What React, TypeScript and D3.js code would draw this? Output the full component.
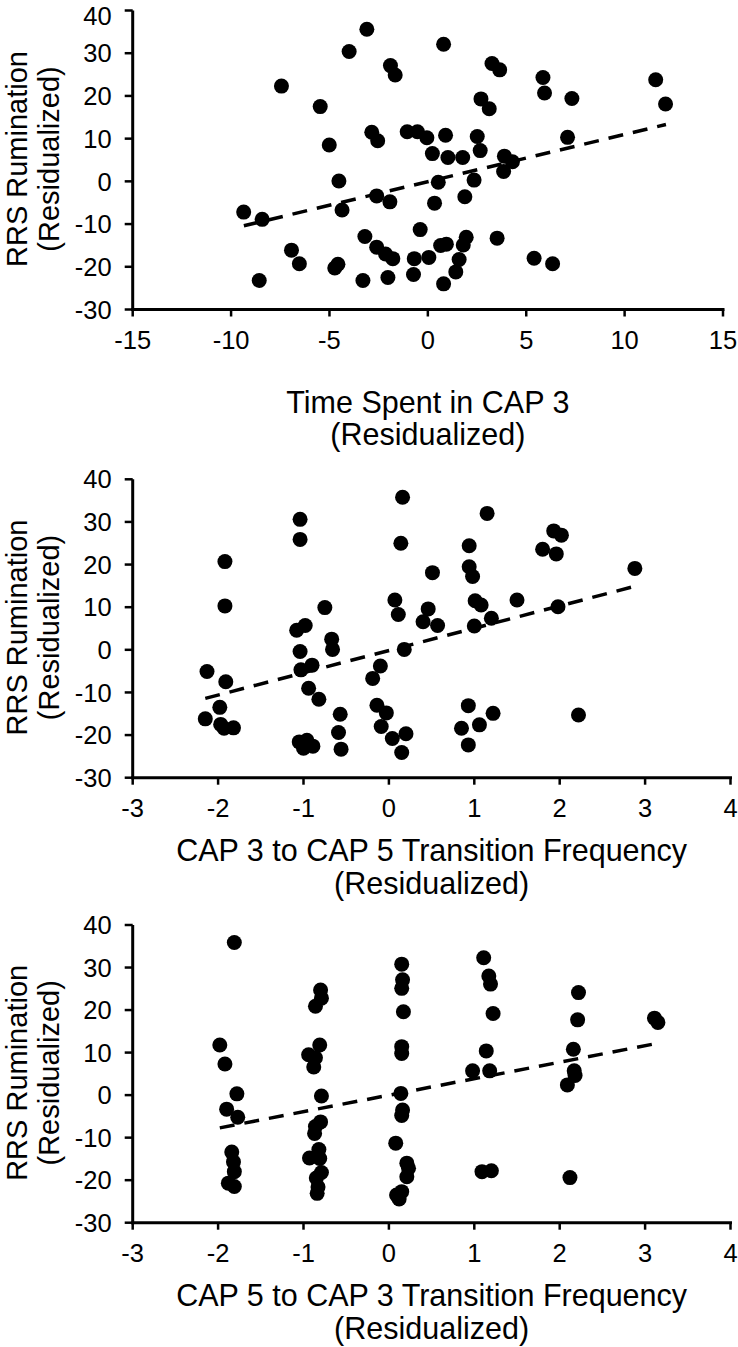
import React from "react";
import * as d3 from "d3";

// ---------- data ----------
const yTicks = [-30, -20, -10, 0, 10, 20, 30, 40];
const xTicksTime = [-15, -10, -5, 0, 5, 10, 15];
const xTicksTrans = [-3, -2, -1, 0, 1, 2, 3, 4];

const yTitleLines = ["RRS Rumination", "(Residualized)"];
const xTitleTime = ["Time Spent in CAP 3", "(Residualized)"];
const xTitle35 = ["CAP 3 to CAP 5 Transition Frequency", "(Residualized)"];
const xTitle53 = ["CAP 5 to CAP 3 Transition Frequency", "(Residualized)"];

// Panel 1: Time Spent in CAP 3
const timeX = [-3.1, -4.0, 0.8, -1.9, -1.66, -7.44, -5.47, -5.01, -4.52, -4.36, -9.36, -8.42, -8.57, -6.93, -6.53, -4.73, -4.57, -3.3, -3.2, -2.85, -2.55, -2.6, -1.93, -2.6, -2.15, -1.78, -2.03, -1.05, -0.53, -0.05, 0.23, 0.9, 1.02, 1.77, 0.53, 0.34, -0.39, -0.69, -0.73, 0.05, 0.65, 0.94, 0.8, 1.42, 1.59, 1.8, 1.95, 1.88, 2.35, 2.51, 2.66, 2.7, 3.12, 3.26, 3.65, 3.85, 3.89, 4.3, 3.52, 5.4, 6.34, 5.85, 5.93, 7.32, 7.1, 11.58, 12.08];
const timeY = [35.6, 30.4, 32.1, 27.1, 24.9, 22.3, 17.5, 8.5, 0.1, -6.7, -7.2, -8.9, -23.2, -16.1, -19.3, -20.3, -19.4, -23.2, -12.9, 11.5, 9.5, -3.4, -4.8, -15.4, -17.0, -18.1, -22.5, 11.6, 11.6, 10.2, 6.5, 10.8, 5.6, 5.6, -0.2, -5.1, -11.3, -18.1, -21.8, -17.8, -15.0, -14.7, -24.0, -21.2, -18.3, -14.9, -13.1, -3.6, 0.3, 10.5, 7.2, 19.3, 17.0, 27.6, 26.1, 2.3, 5.9, 4.6, -13.3, -18.0, -19.3, 24.3, 20.7, 19.4, 10.3, 23.8, 18.1];
const timeTrendX = [-9.35, 12.1];
const timeTrendY = [-10.4, 13.3];

// Panel 2: CAP 3 -> CAP 5 transition frequency
const t35X = [-1.92, -1.92, -2.13, -1.91, -1.98, -2.15, -1.97, -1.93, -1.82, -1.04, -1.04, -1.08, -0.98, -1.04, -1.03, -0.9, -0.94, -0.82, -0.75, -0.67, -0.66, -0.57, -0.59, -0.56, -1.05, -0.96, -1.0, -0.89, -0.1, -0.19, -0.14, -0.03, -0.09, 0.04, 0.2, 0.15, 0.16, 0.14, 0.07, 0.11, 0.18, 1.15, 0.94, 0.94, 0.98, 0.51, 0.46, 0.4, 0.57, 1.01, 1.08, 1.0, 1.2, 1.5, 1.93, 2.02, 1.8, 1.96, 1.98, 2.88, 0.93, 1.22, 0.85, 1.06, 0.93, 2.22];
const t35Y = [20.7, 10.3, -5.1, -7.5, -13.5, -16.2, -17.5, -18.4, -18.3, 30.6, 25.9, 4.6, 5.7, -0.4, -4.7, -3.6, -9.0, -11.6, 9.9, 2.5, 0.1, -15.1, -19.4, -23.3, -21.6, -21.2, -23.1, -22.6, -3.8, -6.7, -13.0, -14.8, -18.0, -20.8, -19.7, -24.1, 35.8, 25.0, 11.7, 8.3, 0.1, 32.0, 24.4, 19.5, 17.2, 18.1, 9.6, 6.6, 5.7, 11.5, 10.5, 5.6, 7.4, 11.7, 27.9, 26.9, 23.6, 22.5, 10.1, 19.1, -13.1, -14.9, -18.4, -17.6, -22.3, -15.3];
const t35TrendX = [-2.15, 2.9];
const t35TrendY = [-11.4, 15.0];

// Panel 3: CAP 5 -> CAP 3 transition frequency
const t53X = [-1.81, -1.98, -1.92, -1.78, -1.9, -1.77, -1.84, -1.82, -1.81, -1.88, -1.81, -0.8, -0.79, -0.86, -0.81, -0.94, -0.86, -0.88, -0.79, -0.8, -0.86, -0.87, -0.82, -0.93, -0.81, -0.79, -0.85, -0.83, -0.84, 0.15, 0.16, 0.15, 0.17, 0.15, 0.15, 0.14, 0.16, 0.15, 0.08, 0.21, 0.23, 0.21, 0.15, 0.09, 0.12, 1.11, 1.17, 1.19, 1.22, 1.14, 0.98, 1.18, 1.09, 1.2, 2.22, 2.21, 2.16, 2.17, 2.18, 2.09, 2.12, 3.11, 3.15];
const t53Y = [35.9, 11.8, 7.3, 0.3, -3.3, -5.2, -13.4, -15.7, -18.0, -20.7, -21.5, 24.7, 22.8, 20.9, 11.8, 9.5, 8.8, 6.6, -0.2, -6.3, -7.4, -9.0, -12.8, -14.8, -14.9, -18.2, -19.5, -21.6, -23.1, 30.8, 27.1, 25.1, 19.6, 11.4, 9.8, 0.4, -3.5, -4.8, -11.3, -16.0, -17.2, -19.2, -22.7, -23.5, -24.4, 32.3, 28.0, 26.1, 19.2, 10.4, 5.7, 5.7, -18.0, -17.8, 24.1, 17.7, 10.8, 5.7, 4.6, 2.4, -19.4, 18.1, 17.1];
const t53TrendX = [-1.98, 3.15];
const t53TrendY = [-7.7, 12.2];

// ---------- layout ----------
const W = 738;
const H = 1347;
const FONT = "'Liberation Sans', Arial, Helvetica, sans-serif";
const TICK_FS = 25.5;
const XTITLE_FS = 30.5;
const YTITLE_FS = 29;
const MIN_TICK_BASE = Math.ceil(TICK_FS * 0.91) + 1; // keep the top label fully inside the page

type PanelSpec = {
  xs: number[];
  ys: number[];
  tx: number[];
  ty: number[];
  xTicks: number[];
  xTitle: string[];
  left: number;
  right: number;
  top: number;
  bottom: number;
  titleBase1: number;
  titleBase2: number;
};

const panels: PanelSpec[] = [
  {
    xs: timeX, ys: timeY, tx: timeTrendX, ty: timeTrendY, xTicks: xTicksTime, xTitle: xTitleTime,
    left: 132.7, right: 723, top: 10.5, bottom: 309.5, titleBase1: 413, titleBase2: 445,
  },
  {
    xs: t35X, ys: t35Y, tx: t35TrendX, ty: t35TrendY, xTicks: xTicksTrans, xTitle: xTitle35,
    left: 132.7, right: 730.5, top: 479.3, bottom: 777.7, titleBase1: 861, titleBase2: 894,
  },
  {
    xs: t53X, ys: t53Y, tx: t53TrendX, ty: t53TrendY, xTicks: xTicksTrans, xTitle: xTitle53,
    left: 132.7, right: 730.5, top: 925, bottom: 1222.7, titleBase1: 1306, titleBase2: 1339,
  },
];

function Panel({ p }: { p: PanelSpec }) {
  const x = d3.scaleLinear().domain(d3.extent(p.xTicks) as [number, number]).range([p.left, p.right]);
  const y = d3.scaleLinear().domain(d3.extent(yTicks) as [number, number]).range([p.bottom, p.top]);
  const pts = d3.zip(p.xs, p.ys);
  const trend = d3.line<[number, number]>().x((d) => x(d[0])).y((d) => y(d[1]))(d3.zip(p.tx, p.ty) as [number, number][]);
  const midY = (p.top + p.bottom) / 2 - 1;
  const midX = (p.left + p.right) / 2;
  return (
    <g>
      {/* axes */}
      <line x1={p.left} x2={p.left} y1={p.top} y2={p.bottom + 1.5} stroke="#000" strokeWidth={3} />
      <line x1={p.left - 1.5} x2={p.right + 1.5} y1={p.bottom} y2={p.bottom} stroke="#000" strokeWidth={3} />
      {yTicks.map((t) => (
        <g key={"y" + t}>
          <line x1={p.left - 8} x2={p.left} y1={y(t)} y2={y(t)} stroke="#000" strokeWidth={2.5} />
          <text
            x={p.left - 21}
            y={Math.max(y(t) + TICK_FS * 0.36, MIN_TICK_BASE)}
            textAnchor="end"
            fontSize={TICK_FS}
            fontFamily={FONT}
            fill="#000"
          >
            {t}
          </text>
        </g>
      ))}
      {p.xTicks.map((t) => (
        <g key={"x" + t}>
          <line x1={x(t)} x2={x(t)} y1={p.bottom} y2={p.bottom + 7} stroke="#000" strokeWidth={2.5} />
          <text x={x(t)} y={p.bottom + 39} textAnchor="middle" fontSize={TICK_FS} fontFamily={FONT} fill="#000">
            {t}
          </text>
        </g>
      ))}
      {/* trend */}
      <path d={trend || ""} fill="none" stroke="#000" strokeWidth={3.5} strokeDasharray="15 10" />
      {/* points */}
      {pts.map((d, i) => (
        <circle key={i} cx={x(d[0])} cy={y(d[1])} r={7.5} fill="#000" />
      ))}
      {/* y title */}
      <g transform={`translate(27,${midY}) rotate(-90)`}>
        <text textAnchor="middle" fontSize={YTITLE_FS} fontFamily={FONT} fill="#000">{yTitleLines[0]}</text>
      </g>
      <g transform={`translate(59,${midY}) rotate(-90)`}>
        <text textAnchor="middle" fontSize={YTITLE_FS} fontFamily={FONT} fill="#000">{yTitleLines[1]}</text>
      </g>
      {/* x title */}
      <text x={midX} y={p.titleBase1} textAnchor="middle" fontSize={XTITLE_FS} fontFamily={FONT} fill="#000">{p.xTitle[0]}</text>
      <text x={midX} y={p.titleBase2} textAnchor="middle" fontSize={XTITLE_FS} fontFamily={FONT} fill="#000">{p.xTitle[1]}</text>
    </g>
  );
}

export default function App() {
  return (
    <svg width={W} height={H} viewBox={`0 0 ${W} ${H}`} style={{ position: "absolute", left: 0, top: 0, background: "#fff" }}>
      <rect width={W} height={H} fill="#fff" />
      {panels.map((p, i) => (
        <Panel key={i} p={p} />
      ))}
    </svg>
  );
}
